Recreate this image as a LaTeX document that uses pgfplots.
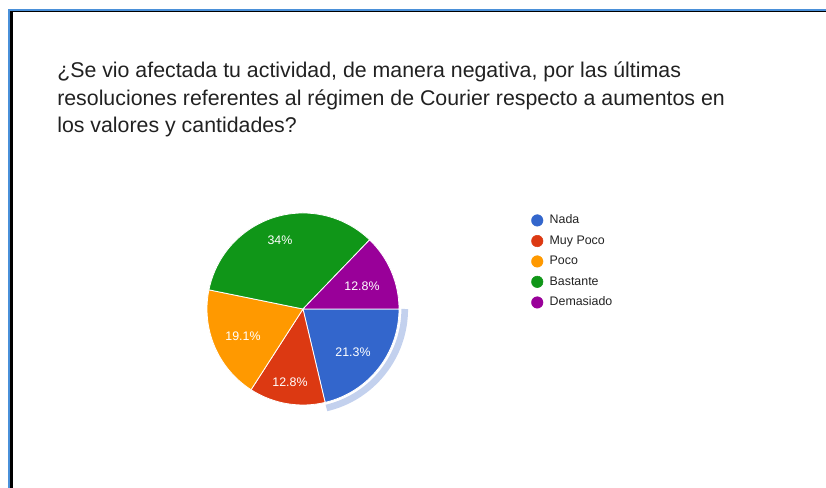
\documentclass[border=0pt]{standalone}
\usepackage{pgfplots}
\pgfplotsset{compat=1.18}
\usepackage{pgfplotstable}
\usepackage{fontspec}
\setmainfont{Liberation Sans}
\definecolor{nada}{HTML}{3366CC}
\definecolor{muypoco}{HTML}{DC3912}
\definecolor{poco}{HTML}{FF9900}
\definecolor{bastante}{HTML}{109618}
\definecolor{demasiado}{HTML}{990099}
\definecolor{ringblue}{HTML}{C3D1EE}
\definecolor{frameblue}{HTML}{4A90D9}
\definecolor{titlecol}{HTML}{212121}
\definecolor{legcol}{HTML}{222222}
% category, percent
\pgfplotstableread{
cat pct
Nada 21.3
MuyPoco 12.8
Poco 19.1
Bastante 34
Demasiado 12.8
}\piedata
\begin{document}
\begin{tikzpicture}
\begin{axis}[
  hide axis, scale only axis,
  width=619.5pt, height=366pt,
  xmin=0, xmax=826, ymin=0, ymax=488, y dir=reverse,
  clip=false,
  legend image code/.code={\fill[#1] (0pt,0pt) circle (4.3pt); \path[draw=none, fill=none] (-4.3pt,0pt) -- (7.3pt,0pt);},
  legend style={at={(axis cs:531,212)}, anchor=north west, draw=none, fill=none,
    font=\fontsize{9.3pt}{10pt}\selectfont\color{legcol}, row sep=3.4pt,
    legend cell align=left, inner sep=0pt},
]
% frame
\draw[frameblue, line width=1.5pt] (axis cs:9,488) -- (axis cs:9,10) -- (axis cs:826,10);
\draw[black, line width=2pt] (axis cs:11.8,488) -- (axis cs:11.8,11.5);
\draw[black, line width=0.8pt] (axis cs:11,11.6) -- (axis cs:826,11.6);
% title
\node[anchor=base west, font=\fontsize{16pt}{19pt}\selectfont, text=titlecol, inner sep=0pt] at (axis cs:57,78) {¿Se vio afectada tu actividad, de manera negativa, por las últimas};
\node[anchor=base west, font=\fontsize{16pt}{19pt}\selectfont, text=titlecol, inner sep=0pt] at (axis cs:57,105.5) {resoluciones referentes al régimen de Courier respecto a aumentos en};
\node[anchor=base west, font=\fontsize{16pt}{19pt}\selectfont, text=titlecol, inner sep=0pt] at (axis cs:57,133) {los valores y cantidades?};
% highlight ring on selected slice (Nada)
\draw[ringblue, line width=5pt] (axis cs:303,309) ++(0:76.3pt) arc[start angle=0, end angle={-3.6*21.3}, radius=76.3pt];
% slices, clockwise from 3 o'clock
\filldraw[fill=nada, draw=white, line width=0.6pt] (axis cs:303,309) -- ++(0:72pt) arc[start angle=0, end angle={-3.6*21.3}, radius=72pt] -- cycle;
\filldraw[fill=muypoco, draw=white, line width=0.6pt] (axis cs:303,309) -- ++({-3.6*21.3}:72pt) arc[start angle={-3.6*21.3}, end angle={-3.6*(21.3+12.8)}, radius=72pt] -- cycle;
\filldraw[fill=poco, draw=white, line width=0.6pt] (axis cs:303,309) -- ++({-3.6*(21.3+12.8)}:72pt) arc[start angle={-3.6*(21.3+12.8)}, end angle={-3.6*(21.3+12.8+19.1)}, radius=72pt] -- cycle;
\filldraw[fill=bastante, draw=white, line width=0.6pt] (axis cs:303,309) -- ++({-3.6*(21.3+12.8+19.1)}:72pt) arc[start angle={-3.6*(21.3+12.8+19.1)}, end angle={-3.6*(21.3+12.8+19.1+34)}, radius=72pt] -- cycle;
\filldraw[fill=demasiado, draw=white, line width=0.6pt] (axis cs:303,309) -- ++({-3.6*(21.3+12.8+19.1+34)}:72pt) arc[start angle={-3.6*(21.3+12.8+19.1+34)}, end angle=-360, radius=72pt] -- cycle;
% slice labels
\begin{scope}[every node/.style={text=white, font=\fontsize{9.3pt}{10pt}\selectfont, inner sep=0pt}]
\node at (axis cs:353,352) {21.3\%};
\node at (axis cs:290,382) {12.8\%};
\node at (axis cs:243,336) {19.1\%};
\node at (axis cs:280,240) {34\%};
\node at (axis cs:362,286) {12.8\%};
\end{scope}
% legend
\addlegendimage{nada}
\addlegendentry{Nada}
\addlegendimage{muypoco}
\addlegendentry{Muy Poco}
\addlegendimage{poco}
\addlegendentry{Poco}
\addlegendimage{bastante}
\addlegendentry{Bastante}
\addlegendimage{demasiado}
\addlegendentry{Demasiado}
\end{axis}
\pgfresetboundingbox
\path[use as bounding box] (current axis.south west) rectangle (current axis.north east);
\end{tikzpicture}
\end{document}
